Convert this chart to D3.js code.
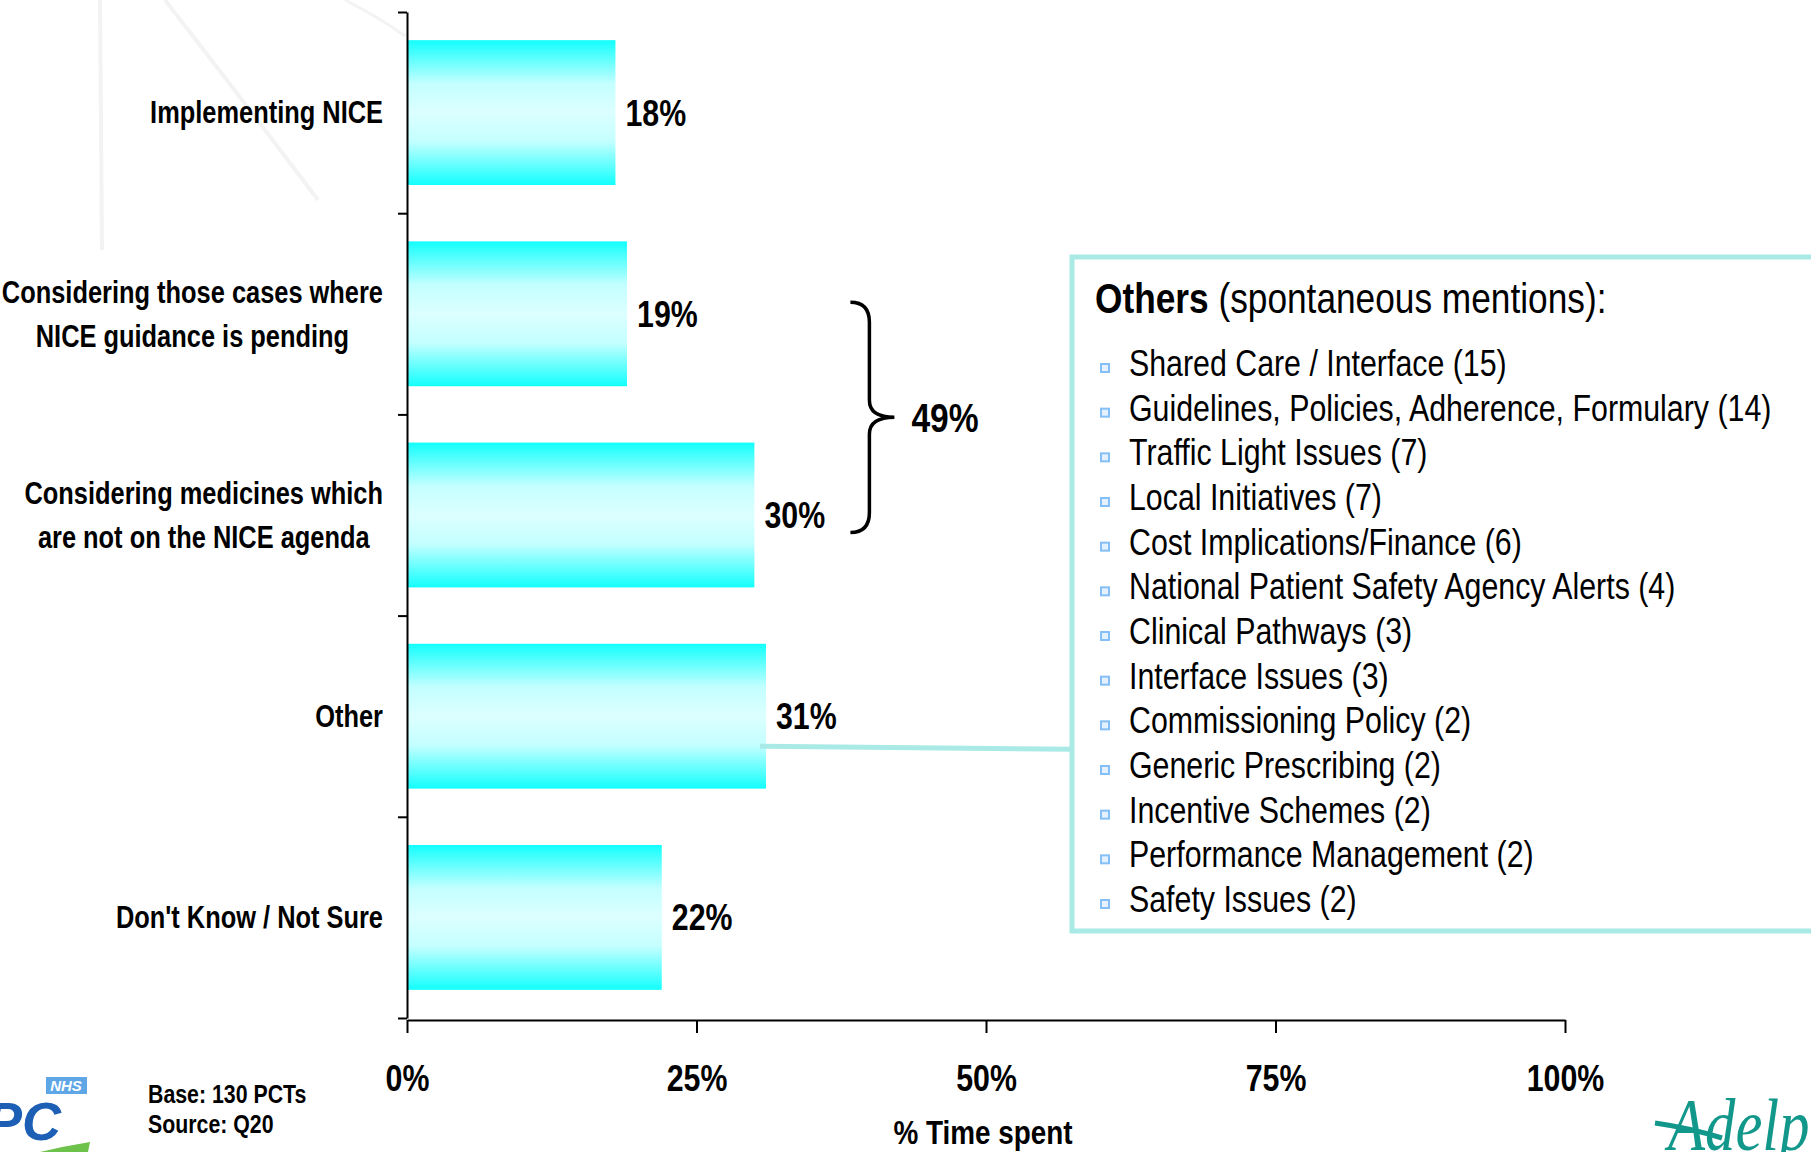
<!DOCTYPE html>
<html>
<head>
<meta charset="utf-8">
<script src="https://cdn.jsdelivr.net/npm/d3@7"></script>
<style>
  body { margin: 0; background: #fff; }
  text { font-family: "Liberation Sans", Arial, sans-serif; }
</style>
</head>
<body>
<div id="chart"></div>
<script>
// chart data
let categories = ["Implementing NICE", "Pending", "Not on agenda", "Other", "Don't Know"];
let labelLines = [
    ["Implementing NICE"],
    ["Considering those cases where", "NICE guidance is pending"],
    ["Considering medicines which", "are not on the NICE agenda"],
    ["Other"],
    ["Don't Know / Not Sure"]
];
let values = [18, 19, 30, 31, 22];
let xTicks = [0, 25, 50, 75, 100];
let braceTotal = "49%";
let othersList = [
    "Shared Care / Interface (15)",
    "Guidelines, Policies, Adherence, Formulary (14)",
    "Traffic Light Issues (7)",
    "Local Initiatives (7)",
    "Cost Implications/Finance (6)",
    "National Patient Safety Agency Alerts (4)",
    "Clinical Pathways (3)",
    "Interface Issues (3)",
    "Commissioning Policy (2)",
    "Generic Prescribing (2)",
    "Incentive Schemes (2)",
    "Performance Management (2)",
    "Safety Issues (2)"
];

// no narrow font installed, so squeeze Liberation Sans like Arial Narrow
let SX = 0.82;

function narrowAt(x, y) {
    return "translate(" + x + "," + y + ") scale(" + SX + ",1)";
}

function bar_chart() {
    let W = 1811, H = 1152;
    let left = 407, right = 1565, top = 12, bottom = 1018;

    let svg = d3.select("#chart")
        .append("svg")
        .attr("width", W)
        .attr("height", H);

    svg.append("rect").attr("width", W).attr("height", H).attr("fill", "#fff");

    // faint watermark strokes in the corner
    let wm = svg.append("g").attr("fill", "none").attr("stroke", "#f3f3f3").attr("stroke-width", 4);
    wm.append("path").attr("d", "M100,0 L102,250");
    wm.append("path").attr("d", "M165,0 Q235,90 318,200");
    wm.append("path").attr("d", "M345,0 Q380,18 405,36").attr("stroke-width", 3);

    // gradient for bars
    let grad = svg.append("defs").append("linearGradient")
        .attr("id", "barGrad")
        .attr("x1", 0).attr("y1", 0).attr("x2", 0).attr("y2", 1);
    [[0, "#12fffd"], [0.3, "#c4ffff"], [0.5, "#dcffff"], [0.7, "#c4ffff"], [1, "#12fffd"]]
        .forEach(function (s) {
            grad.append("stop").attr("offset", s[0]).attr("stop-color", s[1]);
        });

    let x = d3.scaleLinear().domain([0, 100]).range([left, right]);
    let y = d3.scaleBand().domain(categories).range([top, bottom])
        .paddingInner(0.28).paddingOuter(0.14);
    let yIdx = d3.scaleLinear().domain([0, categories.length]).range([top, bottom]);

    // bars
    svg.append("g")
        .selectAll("rect")
        .data(values)
        .enter()
        .append("rect")
        .attr("x", x(0))
        .attr("y", function (d, i) { return y(categories[i]); })
        .attr("width", function (d) { return x(d) - x(0); })
        .attr("height", y.bandwidth())
        .attr("fill", "url(#barGrad)");

    // y axis with ticks between the categories
    let yAxis = svg.append("g")
        .attr("transform", "translate(" + left + ",0)")
        .call(d3.axisLeft(yIdx).tickValues(d3.range(categories.length + 1)).tickSize(9).tickSizeOuter(0).tickFormat(""));
    yAxis.selectAll("path, line").attr("stroke", "#000").attr("stroke-width", 2);

    // x axis
    let xAxis = svg.append("g")
        .attr("transform", "translate(0," + (bottom + 2) + ")")
        .call(d3.axisBottom(x).tickValues(xTicks).tickSize(13).tickSizeOuter(0).tickPadding(32)
            .tickFormat(function (d) { return d + "%"; }));
    xAxis.selectAll("path, line").attr("stroke", "#000").attr("stroke-width", 2);
    xAxis.selectAll("text")
        .attr("font-family", "Liberation Sans, Arial, sans-serif")
        .attr("font-size", 37).attr("font-weight", "bold").attr("fill", "#000")
        .attr("transform", "scale(" + SX + ",1)");

    // category labels (multi-line ones centred on the widest line)
    let labelRight = left - 24;
    labelLines.forEach(function (lines, i) {
        let cy = y(categories[i]) + y.bandwidth() / 2;
        let g = svg.append("g").attr("transform", narrowAt(labelRight, cy));
        let lh = 44;
        let texts = lines.map(function (ln, j) {
            return g.append("text")
                .attr("y", (j - (lines.length - 1) / 2) * lh)
                .attr("dy", "0.35em")
                .attr("font-size", 31)
                .attr("font-weight", "bold")
                .text(ln);
        });
        if (lines.length === 1) {
            texts[0].attr("x", 0).attr("text-anchor", "end");
        } else {
            let maxW = d3.max(texts, function (t) { return t.node().getComputedTextLength(); });
            texts.forEach(function (t) {
                t.attr("x", -maxW / 2).attr("text-anchor", "middle");
            });
        }
    });

    // value labels
    svg.append("g")
        .selectAll("text")
        .data(values)
        .enter()
        .append("text")
        .attr("transform", function (d, i) {
            return narrowAt(x(d) + 10, y(categories[i]) + y.bandwidth() / 2);
        })
        .attr("dy", "0.35em")
        .attr("font-size", 37)
        .attr("font-weight", "bold")
        .text(function (d) { return d + "%"; });

    // brace over the two "considering" bars
    let bTop = y(categories[1]) + 0.42 * y.bandwidth();
    let bBot = y(categories[2]) + 0.62 * y.bandwidth();
    let bMid = (bTop + bBot) / 2;
    let bx = x(values[2]) + 96;
    svg.append("path")
        .attr("d", "M" + bx + "," + bTop +
            " Q" + (bx + 19) + "," + bTop + " " + (bx + 19) + "," + (bTop + 20) +
            " L" + (bx + 19) + "," + (bMid - 17) +
            " Q" + (bx + 19) + "," + bMid + " " + (bx + 44) + "," + bMid +
            " Q" + (bx + 19) + "," + bMid + " " + (bx + 19) + "," + (bMid + 17) +
            " L" + (bx + 19) + "," + (bBot - 20) +
            " Q" + (bx + 19) + "," + bBot + " " + bx + "," + bBot)
        .attr("fill", "none")
        .attr("stroke", "#000")
        .attr("stroke-width", 3.5);
    svg.append("text")
        .attr("transform", narrowAt(bx + 61, bMid))
        .attr("dy", "0.35em")
        .attr("font-size", 41)
        .attr("font-weight", "bold")
        .text(braceTotal);

    // connector from "Other" bar to the box
    let boxX = 1072, boxY = 257, boxH = 674;
    let oy = y(categories[3]) + y.bandwidth() / 2;
    svg.append("line")
        .attr("x1", x(values[3]) - 6).attr("y1", oy + 30)
        .attr("x2", boxX).attr("y2", oy + 33)
        .attr("stroke", "#a9e9e6").attr("stroke-width", 5);

    // "Others" box
    svg.append("rect")
        .attr("x", boxX).attr("y", boxY)
        .attr("width", 800).attr("height", boxH)
        .attr("fill", "#fff")
        .attr("stroke", "#a9e9e6")
        .attr("stroke-width", 5);

    let title = svg.append("text")
        .attr("transform", narrowAt(1095, 313))
        .attr("font-size", 43);
    title.append("tspan").attr("font-weight", "bold").text("Others");
    title.append("tspan").text(" (spontaneous mentions):");

    let ly = d3.scalePoint().domain(d3.range(othersList.length)).range([363, 899]);
    let items = svg.append("g")
        .selectAll("g")
        .data(othersList)
        .enter()
        .append("g")
        .attr("transform", function (d, i) { return "translate(0," + ly(i) + ")"; });
    items.append("rect")
        .attr("x", 1101).attr("y", 1)
        .attr("width", 8).attr("height", 8)
        .attr("fill", "#e4f1ff")
        .attr("stroke", "#86bff5")
        .attr("stroke-width", 2);
    items.append("text")
        .attr("transform", narrowAt(1129, 0))
        .attr("dy", "0.35em")
        .attr("font-size", 37)
        .text(function (d) { return d; });

    // axis title and footnotes
    svg.append("text")
        .attr("transform", narrowAt((left + right) / 2 - 3, 1144))
        .attr("text-anchor", "middle")
        .attr("font-size", 34)
        .attr("font-weight", "bold")
        .text("% Time spent");

    svg.append("text").attr("transform", narrowAt(148, 1103))
        .attr("font-size", 26).attr("font-weight", "bold").text("Base: 130 PCTs");
    svg.append("text").attr("transform", narrowAt(148, 1133))
        .attr("font-size", 26).attr("font-weight", "bold").text("Source: Q20");

    // logos
    svg.append("rect").attr("x", 46).attr("y", 1077).attr("width", 41).attr("height", 17).attr("fill", "#5ea6e6");
    svg.append("text").attr("x", 66).attr("y", 1091).attr("text-anchor", "middle")
        .attr("font-size", 15).attr("font-weight", "bold").attr("font-style", "italic")
        .attr("fill", "#fff").text("NHS");
    svg.append("text").attr("x", -14).attr("y", 1140)
        .attr("font-size", 54).attr("font-weight", "bold").attr("font-style", "italic")
        .attr("fill", "#1c5fb5").text("PC");
    svg.append("path").attr("d", "M40,1152 Q65,1146 90,1142 L88,1152 Z").attr("fill", "#6cc24a");

    svg.append("path").attr("d", "M1655,1123 Q1690,1128 1722,1138")
        .attr("fill", "none").attr("stroke", "#12978b").attr("stroke-width", 5);
    svg.append("text").attr("transform", narrowAt(1668, 1150))
        .attr("font-size", 74).attr("font-style", "italic")
        .attr("fill", "#12978b").style("font-family", "Liberation Serif, serif").text("Adelphi");
}

bar_chart();
</script>
</body>
</html>
